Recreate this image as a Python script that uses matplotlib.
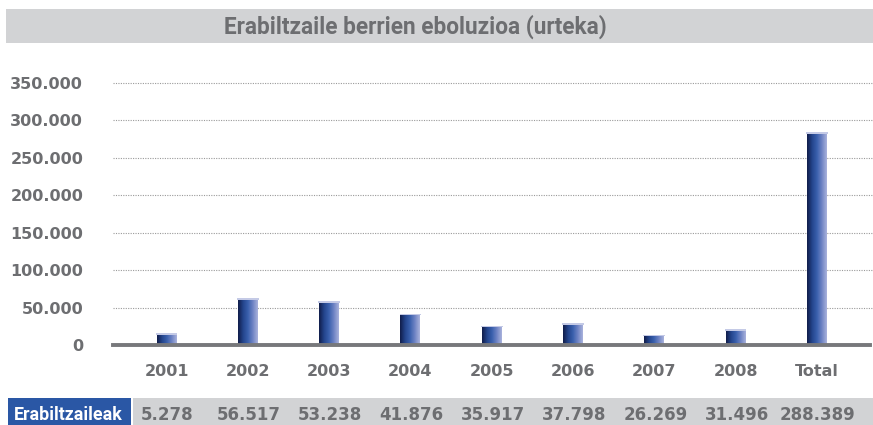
import numpy as np
import matplotlib.pyplot as plt
from matplotlib.colors import LinearSegmentedColormap
from matplotlib.patches import Rectangle

# --- Data ---
categories = ['2001', '2002', '2003', '2004', '2005', '2006', '2007', '2008', 'Total']
# bar heights as drawn in the chart
bar_heights = [14500, 61500, 57500, 40500, 25000, 28000, 12500, 20000, 283000]
# values printed in the table row
table_values = ['5.278', '56.517', '53.238', '41.876', '35.917', '37.798', '26.269', '31.496', '288.389']
row_label = 'Erabiltzaileak'
yticks = [0, 50000, 100000, 150000, 200000, 250000, 300000, 350000]
title = 'Erabiltzaile berrien eboluzioa (urteka)'

W, H = 873, 425
GREY_TXT = '#6d6e71'
BAND = '#d2d3d5'
BLUE = '#2a57a5'

fig = plt.figure(figsize=(W / 100, H / 100), dpi=100)
fig.patch.set_facecolor('white')


def fx(px):
    return px / W


def fy(py):
    return 1 - py / H


# title banner
fig.patches.append(Rectangle((fx(6), fy(43)), fx(867), 34 / H, transform=fig.transFigure,
                             facecolor=BAND, edgecolor='none', zorder=0))
fig.text(fx(415), fy(26.5), title, ha='center', va='center', fontsize=16.3, color=GREY_TXT,
         family=['Roboto', 'DejaVu Sans'], weight='bold')

# main axes: 0 at y=345 px, 350.000 at y=83 px
ax = fig.add_axes([fx(113), fy(345), fx(760), (345 - 83) / H])
x0, step = 166.5, 81.3
for s in ax.spines.values():
    s.set_visible(False)
ax.set_xticks([])
ax.set_yticks(yticks)
ax.set_yticklabels([f'{v:,}'.replace(',', '.') for v in yticks], fontsize=11.5,
                   color=GREY_TXT, weight='bold')
ax.tick_params(axis='y', length=0, pad=21.5)

for v in yticks[1:]:
    ax.axhline(v, color='#9a9a9a', lw=0.8, ls=(0, (1, 1.2)), zorder=1, clip_on=False)
ax.axhline(0, color='#77787b', lw=2.8, zorder=4, clip_on=False, xmax=757 / 760)

cmap = LinearSegmentedColormap.from_list('bar', ['#111d4a', '#23448c', '#3a60ad', '#6f84c4', '#a9b2dc'])
grad = np.linspace(0, 1, 64).reshape(1, -1)
xs = np.arange(len(categories))
bw = 20 / step
for xi, h in zip(xs, bar_heights):
    ax.imshow(grad, cmap=cmap, aspect='auto', extent=[xi - bw / 2, xi + bw / 2, 0, h],
              zorder=3, interpolation='bilinear')
    ax.add_patch(Rectangle((xi - bw / 2 - 0.01, h - 900), bw + 0.02, 1800,
                           facecolor='#c4cae6', edgecolor='none', zorder=3))
ax.set_xlim((113 - x0) / step, (873 - x0) / step)
ax.set_ylim(0, 350000)

# category labels and table values
for xi, cat, val in zip(xs, categories, table_values):
    px = x0 + xi * step
    fig.text(fx(px), fy(372), cat, ha='center', va='center', fontsize=11.5, color=GREY_TXT, weight='bold')
    fig.text(fx(px + 1), fy(415), val, ha='center', va='center', fontsize=12, color=GREY_TXT, weight='bold')

# table row
fig.patches.append(Rectangle((fx(8), 0), fx(123), 27 / H, transform=fig.transFigure,
                             facecolor=BLUE, edgecolor='none', zorder=0))
fig.patches.append(Rectangle((fx(133), 0), fx(740), 27 / H, transform=fig.transFigure,
                             facecolor=BAND, edgecolor='none', zorder=0))
fig.text(fx(14), fy(415), row_label, ha='left', va='center', fontsize=12.8, color='white',
         family=['Roboto', 'DejaVu Sans'], weight='bold')

fig.savefig('out.png', dpi=100)
